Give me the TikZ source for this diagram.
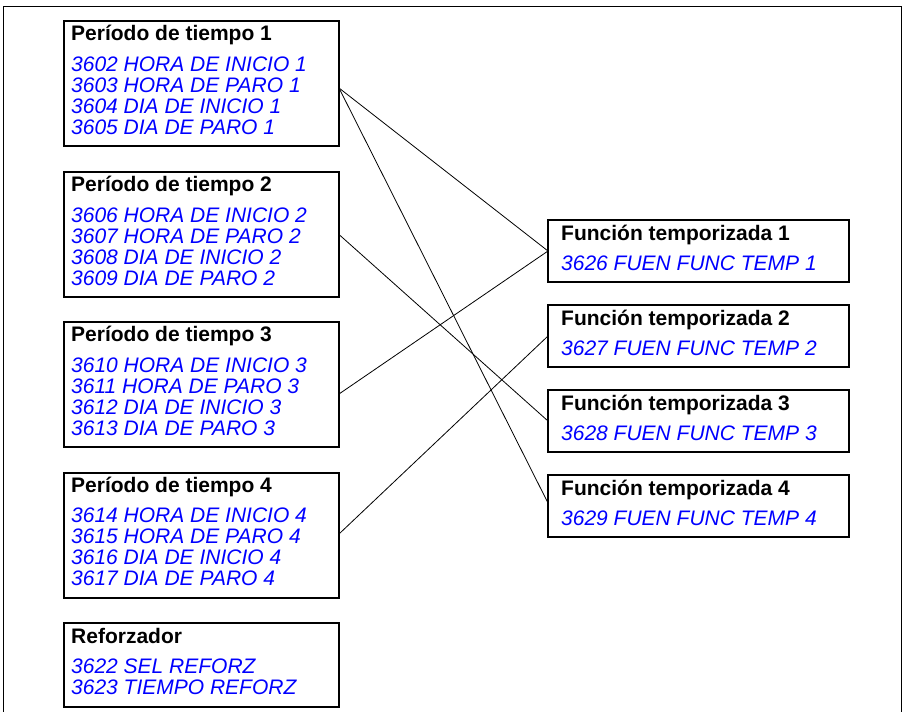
\documentclass[tikz,border=0pt]{standalone}
\usepackage{fontspec}
\setmainfont{Liberation Sans}
\definecolor{paramblue}{RGB}{0,0,255}
\tikzset{
  box/.style={draw, line width=1.4pt, anchor=north west, inner sep=0pt, outer sep=0pt},
  lbox/.style={box, minimum width=275pt, minimum height=125pt},
  rbox/.style={box, minimum width=301pt, minimum height=62pt},
  ttl/.style={anchor=base west, inner sep=0pt, font=\fontsize{21}{21}\selectfont\bfseries},
  prm/.style={anchor=base west, inner sep=0pt, text=paramblue, font=\fontsize{21}{21}\selectfont\itshape},
  link/.style={line width=0.8pt},
  frame/.style={line width=0.9pt},
}
\begin{document}
\begin{tikzpicture}[x=1pt,y=-1pt]
\useasboundingbox (0,0) rectangle (903,712);
\draw[frame] (3.5,712) -- (3.5,6) -- (901.5,6) -- (901.5,712);

% left boxes
\node[lbox] (p1) at (64,21) {};
\node[ttl] (p1t) at (71,40) {Período de tiempo 1};
\foreach \t [count=\i] in {3602 HORA DE INICIO 1,3603 HORA DE PARO 1,3604 DIA DE INICIO 1,3605 DIA DE PARO 1}
  \node[prm] (p1l\i) at (71,{71+(\i-1)*21.33}) {\t};

\node[lbox] (p2) at (64,172) {};
\node[ttl] (p2t) at (71,191) {Período de tiempo 2};
\foreach \t [count=\i] in {3606 HORA DE INICIO 2,3607 HORA DE PARO 2,3608 DIA DE INICIO 2,3609 DIA DE PARO 2}
  \node[prm] (p2l\i) at (71,{222+(\i-1)*21.33}) {\t};

\node[lbox] (p3) at (64,322) {};
\node[ttl] (p3t) at (71,341) {Período de tiempo 3};
\foreach \t [count=\i] in {3610 HORA DE INICIO 3,3611 HORA DE PARO 3,3612 DIA DE INICIO 3,3613 DIA DE PARO 3}
  \node[prm] (p3l\i) at (71,{372+(\i-1)*21.33}) {\t};

\node[lbox] (p4) at (64,473) {};
\node[ttl] (p4t) at (71,492) {Período de tiempo 4};
\foreach \t [count=\i] in {3614 HORA DE INICIO 4,3615 HORA DE PARO 4,3616 DIA DE INICIO 4,3617 DIA DE PARO 4}
  \node[prm] (p4l\i) at (71,{522+(\i-1)*21.33}) {\t};

\node[lbox, minimum height=84pt] (rf) at (64,623) {};
\node[ttl] (rft) at (71,643) {Reforzador};
\node[prm] (rfl1) at (71,673) {3622 SEL REFORZ};
\node[prm] (rfl2) at (71,694) {3623 TIEMPO REFORZ};

% right boxes
\foreach \k/\top/\n in {1/220/3626,2/305/3627,3/390/3628,4/475/3629}{
  \node[rbox] (f\k) at (548,\top) {};
  \node[ttl] (f\k t) at (561,{\top+20}) {Función temporizada \k};
  \node[prm] (f\k l) at (561,{\top+50}) {\n\ FUEN FUNC TEMP \k};
}

% connectors
\draw[link] ([yshift=-4.5pt]p1.east) -- (f1.west);
\draw[link] ([yshift=-4.5pt]p1.east) -- ([yshift=3pt]f4.west);
\draw[link] (p2.east) -- (f3.west);
\draw[link] ([yshift=-9.5pt]p3.east) -- (f1.west);
\draw[link] ([yshift=1.5pt]p4.east) -- (f2.west);
\end{tikzpicture}
\end{document}
